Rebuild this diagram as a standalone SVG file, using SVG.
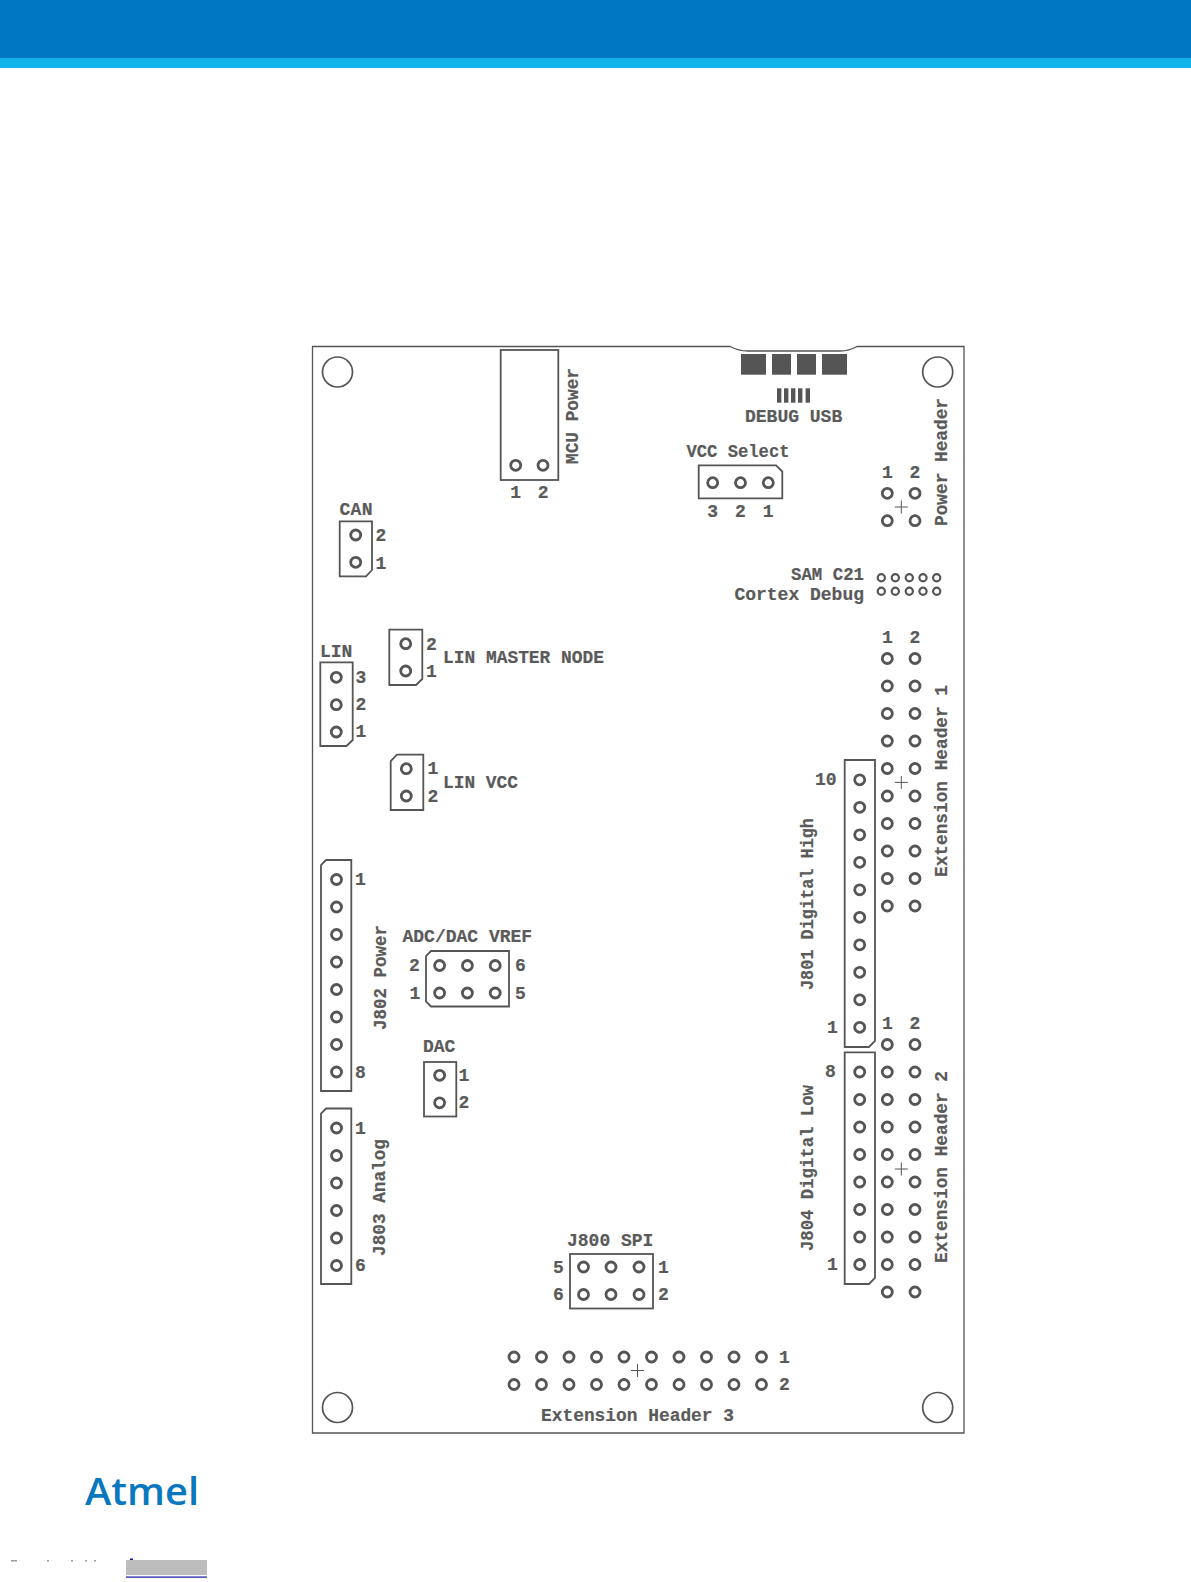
<svg xmlns="http://www.w3.org/2000/svg" width="1191" height="1582" viewBox="0 0 1191 1582">
<style>
.o{fill:none;stroke:#555;stroke-width:1.8}
.h{fill:none;stroke:#555;stroke-width:1.3}
.m{fill:none;stroke:#555;stroke-width:1.7}
.c{fill:none;stroke:#555;stroke-width:1}
.p{fill:none;stroke:#555;stroke-width:2.8}
.d{fill:none;stroke:#555;stroke-width:2.2}
.s{fill:#555}
text{font-family:"Liberation Mono","DejaVu Sans Mono",monospace;font-weight:700;font-size:18px;fill:#5a5a5a;stroke:#5a5a5a;stroke-width:.2}
</style>
<defs>
<circle id="p" r="5" class="p"/>
<circle id="d" r="3.6" class="d"/>
<path id="x" class="c" d="M-6.500 0H6.500M0-6.500V6.500"/>
</defs>
<g id="banner"><rect width="1191" height="58" fill="#0078c1"/><rect y="58" width="1191" height="10" fill="#12b5ea"/></g>
<g id="board">
<path class="h" d="M730.500 346.500H312.500V1433H964V346.500H857Q849 351 840 351H748Q738 351 730.500 346.500"/>
<circle class="m" cx="337.500" cy="372" r="15"/>
<circle class="m" cx="937.700" cy="372" r="15"/>
<circle class="m" cx="337.500" cy="1407.500" r="15"/>
<circle class="m" cx="937.700" cy="1407.500" r="15"/>
</g>
<g id="connectors"></g>
<g id="mcu-power">
<rect class="o" x="500.700" y="350" width="57.600" height="130"/>
<use href="#p" x="515.700" y="465.300"/><use href="#p" x="543" y="465.300"/>
<text x="510.300" y="497.500">1</text><text x="537.700" y="497.500">2</text>
<text transform="translate(578 464) rotate(-90)" textLength="96" lengthAdjust="spacingAndGlyphs">MCU Power</text>
</g>
<g id="debug-usb">
<rect class="s" x="741" y="354" width="25" height="20.700"/><rect class="s" x="772" y="354" width="19" height="20.700"/><rect class="s" x="797" y="354" width="19" height="20.700"/><rect class="s" x="822" y="354" width="25" height="20.700"/>
<rect class="s" x="777" y="388.300" width="4.400" height="14.400"/><rect class="s" x="784" y="388.300" width="4.400" height="14.400"/><rect class="s" x="791" y="388.300" width="4.400" height="14.400"/><rect class="s" x="798" y="388.300" width="4.400" height="14.400"/><rect class="s" x="805.600" y="388.300" width="4.400" height="14.400"/>
<text x="745" y="422">DEBUG USB</text>
</g>
<g id="vcc-select">
<path class="o" d="M698.700 465.300H776L782.300 471.500V498.300H698.700Z"/>
<use href="#p" x="712.700" y="482.700"/><use href="#p" x="740.500" y="482.700"/><use href="#p" x="768.300" y="482.700"/>
<text x="707.300" y="516.500">3</text><text x="735" y="516.500">2</text><text x="762.800" y="516.500">1</text>
<text x="686.500" y="457" textLength="103" lengthAdjust="spacingAndGlyphs">VCC Select</text>
</g>
<g id="power-header">
<use href="#p" x="887.300" y="493.300"/><use href="#p" x="915" y="493.300"/><use href="#p" x="887.300" y="520.700"/><use href="#p" x="915" y="520.700"/>
<use href="#x" x="901.300" y="507"/>
<text x="882" y="478">1</text><text x="909.500" y="478">2</text>
<text transform="translate(946.500 526) rotate(-90)" textLength="128" lengthAdjust="spacingAndGlyphs">Power Header</text>
</g>
<g id="cortex-debug">
<use href="#d" x="881.300" y="577.700"/><use href="#d" x="895.300" y="577.700"/><use href="#d" x="909.300" y="577.700"/><use href="#d" x="923" y="577.700"/><use href="#d" x="936.700" y="577.700"/>
<use href="#d" x="881.300" y="591.300"/><use href="#d" x="895.300" y="591.300"/><use href="#d" x="909.300" y="591.300"/><use href="#d" x="923" y="591.300"/><use href="#d" x="936.700" y="591.300"/>
<text x="791" y="579.500" textLength="73" lengthAdjust="spacingAndGlyphs">SAM C21</text>
<text x="864" y="599.500" text-anchor="end">Cortex Debug</text>
</g>
<g id="can">
<path class="o" d="M339.700 521.300H372V570L366 576.300H339.700Z"/>
<use href="#p" x="355.700" y="535"/><use href="#p" x="355.700" y="562.300"/>
<text x="375.500" y="541">2</text><text x="375.500" y="568.500">1</text>
<text x="339.500" y="515" textLength="33">CAN</text>
</g>
<g id="lin">
<path class="o" d="M320.300 662.300H352.700V740L346.500 746H320.300Z"/>
<use href="#p" x="336.300" y="677.300"/><use href="#p" x="336.300" y="704.700"/><use href="#p" x="336.300" y="732"/>
<text x="355.500" y="682.500">3</text><text x="355.500" y="710">2</text><text x="355.500" y="737.300">1</text>
<text x="320" y="657">LIN</text>
</g>
<g id="lin-master-node">
<path class="o" d="M389.300 629.700H422.300V679L416 685H389.300Z"/>
<use href="#p" x="405.700" y="643.700"/><use href="#p" x="405.700" y="671"/>
<text x="426" y="649.500">2</text><text x="426" y="676.800">1</text>
<text x="443" y="662.500" textLength="161" lengthAdjust="spacingAndGlyphs">LIN MASTER NODE</text>
</g>
<g id="lin-vcc">
<path class="o" d="M397 754.700H423.300V810H390.700V761Z"/>
<use href="#p" x="406.300" y="768.700"/><use href="#p" x="406.300" y="796"/>
<text x="427.500" y="774.300">1</text><text x="427.500" y="801.500">2</text>
<text x="443" y="788" textLength="75" lengthAdjust="spacingAndGlyphs">LIN VCC</text>
</g>
<g id="j802">
<path class="o" d="M326 860H351.300V1091H321V865Z"/>
<use href="#p" x="336.500" y="879.500"/><use href="#p" x="336.500" y="907"/><use href="#p" x="336.500" y="934.500"/><use href="#p" x="336.500" y="962"/><use href="#p" x="336.500" y="989.500"/><use href="#p" x="336.500" y="1017"/><use href="#p" x="336.500" y="1044.500"/><use href="#p" x="336.500" y="1072"/>
<text x="355" y="885">1</text><text x="355" y="1077.500">8</text>
<text transform="translate(385.600 1030) rotate(-90)" textLength="105" lengthAdjust="spacingAndGlyphs">J802 Power</text>
</g>
<g id="j803">
<path class="o" d="M326 1108.500H351.300V1284H321V1113.500Z"/>
<use href="#p" x="336.500" y="1128"/><use href="#p" x="336.500" y="1155.500"/><use href="#p" x="336.500" y="1183"/><use href="#p" x="336.500" y="1210.500"/><use href="#p" x="336.500" y="1238"/><use href="#p" x="336.500" y="1265.500"/>
<text x="355" y="1133.500">1</text><text x="355" y="1271">6</text>
<text transform="translate(384.600 1256) rotate(-90)" textLength="117" lengthAdjust="spacingAndGlyphs">J803 Analog</text>
</g>
<g id="adc-dac-vref">
<path class="o" d="M431 951H509V1006.500H431L426 1001.500V956Z"/>
<use href="#p" x="439.600" y="965.500"/><use href="#p" x="467.400" y="965.500"/><use href="#p" x="495.200" y="965.500"/><use href="#p" x="439.600" y="993"/><use href="#p" x="467.400" y="993"/><use href="#p" x="495.200" y="993"/>
<text x="409" y="971">2</text><text x="409.500" y="998.500">1</text><text x="515" y="971">6</text><text x="515" y="998.500">5</text>
<text x="402.500" y="942">ADC/DAC VREF</text>
</g>
<g id="dac">
<rect class="o" x="424" y="1062" width="32.300" height="54.500"/>
<use href="#p" x="439.600" y="1075.300"/><use href="#p" x="439.600" y="1102.800"/>
<text x="458.500" y="1080.500">1</text><text x="458.500" y="1108">2</text>
<text x="423" y="1052">DAC</text>
</g>
<g id="j800">
<rect class="o" x="570" y="1254" width="83" height="54.500"/>
<use href="#p" x="583.500" y="1267"/><use href="#p" x="611" y="1267"/><use href="#p" x="639" y="1267"/><use href="#p" x="583.500" y="1294.500"/><use href="#p" x="611" y="1294.500"/><use href="#p" x="639" y="1294.500"/>
<text x="553" y="1272.500">5</text><text x="553" y="1300">6</text><text x="658" y="1272.500">1</text><text x="658" y="1300">2</text>
<text x="567" y="1245.700">J800 SPI</text>
</g>
<g id="extension-header-1">
<use href="#p" x="887.300" y="658.500"/><use href="#p" x="915" y="658.500"/><use href="#p" x="887.300" y="686"/><use href="#p" x="915" y="686"/><use href="#p" x="887.300" y="713.500"/><use href="#p" x="915" y="713.500"/><use href="#p" x="887.300" y="741"/><use href="#p" x="915" y="741"/><use href="#p" x="887.300" y="768.500"/><use href="#p" x="915" y="768.500"/><use href="#p" x="887.300" y="796"/><use href="#p" x="915" y="796"/><use href="#p" x="887.300" y="823.500"/><use href="#p" x="915" y="823.500"/><use href="#p" x="887.300" y="851"/><use href="#p" x="915" y="851"/><use href="#p" x="887.300" y="878.500"/><use href="#p" x="915" y="878.500"/><use href="#p" x="887.300" y="906"/><use href="#p" x="915" y="906"/>
<use href="#x" x="901.300" y="782.400"/>
<text x="882" y="643">1</text><text x="909.500" y="643">2</text>
<text transform="translate(946.500 877) rotate(-90)" textLength="192" lengthAdjust="spacingAndGlyphs">Extension Header 1</text>
</g>
<g id="j801">
<path class="o" d="M844.700 760H875V1041L869 1047H844.700Z"/>
<use href="#p" x="859.700" y="779.800"/><use href="#p" x="859.700" y="807.300"/><use href="#p" x="859.700" y="834.800"/><use href="#p" x="859.700" y="862.300"/><use href="#p" x="859.700" y="889.800"/><use href="#p" x="859.700" y="917.300"/><use href="#p" x="859.700" y="944.800"/><use href="#p" x="859.700" y="972.300"/><use href="#p" x="859.700" y="999.800"/><use href="#p" x="859.700" y="1027.300"/>
<text x="815" y="784.500">10</text><text x="827" y="1032.500">1</text>
<text transform="translate(812.700 990) rotate(-90)" textLength="172" lengthAdjust="spacingAndGlyphs">J801 Digital High</text>
</g>
<g id="extension-header-2">
<use href="#p" x="887.300" y="1044.500"/><use href="#p" x="915" y="1044.500"/><use href="#p" x="887.300" y="1072"/><use href="#p" x="915" y="1072"/><use href="#p" x="887.300" y="1099.500"/><use href="#p" x="915" y="1099.500"/><use href="#p" x="887.300" y="1127"/><use href="#p" x="915" y="1127"/><use href="#p" x="887.300" y="1154.500"/><use href="#p" x="915" y="1154.500"/><use href="#p" x="887.300" y="1182"/><use href="#p" x="915" y="1182"/><use href="#p" x="887.300" y="1209.500"/><use href="#p" x="915" y="1209.500"/><use href="#p" x="887.300" y="1237"/><use href="#p" x="915" y="1237"/><use href="#p" x="887.300" y="1264.500"/><use href="#p" x="915" y="1264.500"/><use href="#p" x="887.300" y="1292"/><use href="#p" x="915" y="1292"/>
<use href="#x" x="901.300" y="1169"/>
<text x="882" y="1029">1</text><text x="909.500" y="1029">2</text>
<text transform="translate(946.500 1263) rotate(-90)" textLength="192" lengthAdjust="spacingAndGlyphs">Extension Header 2</text>
</g>
<g id="j804">
<path class="o" d="M844.700 1052.300H875V1278L869 1284H844.700Z"/>
<use href="#p" x="859.700" y="1072"/><use href="#p" x="859.700" y="1099.500"/><use href="#p" x="859.700" y="1127"/><use href="#p" x="859.700" y="1154.500"/><use href="#p" x="859.700" y="1182"/><use href="#p" x="859.700" y="1209.500"/><use href="#p" x="859.700" y="1237"/><use href="#p" x="859.700" y="1264.500"/>
<text x="825" y="1077">8</text><text x="827" y="1270">1</text>
<text transform="translate(812.700 1251) rotate(-90)" textLength="166" lengthAdjust="spacingAndGlyphs">J804 Digital Low</text>
</g>
<g id="extension-header-3">
<use href="#p" x="514" y="1357"/><use href="#p" x="541.500" y="1357"/><use href="#p" x="569" y="1357"/><use href="#p" x="596.500" y="1357"/><use href="#p" x="624" y="1357"/><use href="#p" x="651.500" y="1357"/><use href="#p" x="679" y="1357"/><use href="#p" x="706.500" y="1357"/><use href="#p" x="734" y="1357"/><use href="#p" x="761.500" y="1357"/>
<use href="#p" x="514" y="1384.500"/><use href="#p" x="541.500" y="1384.500"/><use href="#p" x="569" y="1384.500"/><use href="#p" x="596.500" y="1384.500"/><use href="#p" x="624" y="1384.500"/><use href="#p" x="651.500" y="1384.500"/><use href="#p" x="679" y="1384.500"/><use href="#p" x="706.500" y="1384.500"/><use href="#p" x="734" y="1384.500"/><use href="#p" x="761.500" y="1384.500"/>
<use href="#x" x="637.500" y="1370.500"/>
<text x="779" y="1362.500">1</text><text x="779" y="1390">2</text>
<text x="541" y="1420.500" textLength="193" lengthAdjust="spacingAndGlyphs">Extension Header 3</text>
</g>
<g id="logo"><text x="85" y="1505" style="font-family:'Open Sans','Noto Sans',sans-serif;font-weight:600;font-size:38px;fill:#0a78bf;stroke:none" textLength="114" lengthAdjust="spacingAndGlyphs">Atmel</text></g>
<g id="footer">
<rect x="126" y="1560" width="81" height="15" fill="#bdbdbd"/>
<rect x="126" y="1576.500" width="81" height="1.200" fill="#1010a0"/>
<rect x="11" y="1560" width="6" height="1.500" fill="#999"/><rect x="47" y="1560" width="2" height="1.500" fill="#999"/><rect x="71" y="1560" width="2" height="1.500" fill="#999"/><rect x="85" y="1560" width="2" height="1.500" fill="#999"/><rect x="94" y="1560" width="2" height="1.500" fill="#999"/>
<rect x="130" y="1558.500" width="3" height="1.500" fill="#1010a0"/>
</g>
</svg>
